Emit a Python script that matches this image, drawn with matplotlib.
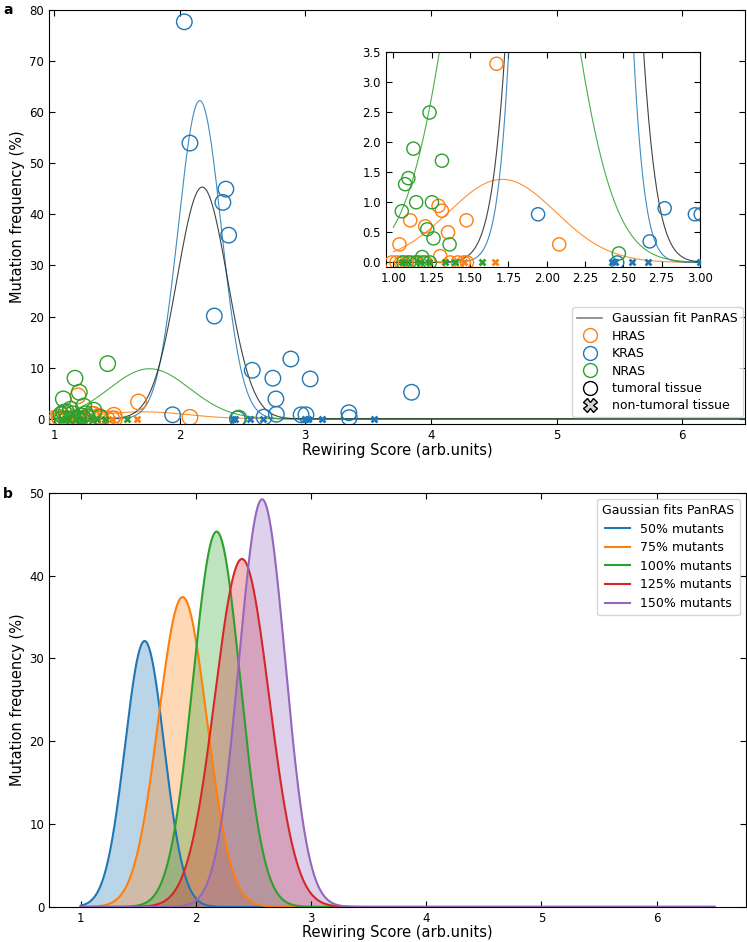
import numpy as np
import matplotlib
matplotlib.use("Agg")
import matplotlib.pyplot as plt
from matplotlib.lines import Line2D
from matplotlib.ticker import FormatStrFormatter

# ---------------- data: panel a ----------------
# tumoral tissue (circles)
hras_x = [1.673, 1.295, 1.317, 1.11, 1.477, 1.208, 1.357, 1.04, 2.082, 1.306,
          0.99, 1.02, 1.05, 1.09, 1.13, 1.17, 1.21, 1.37, 1.42, 1.46, 1.48, 1.19]
hras_y = [3.3, 0.94, 0.86, 0.70, 0.70, 0.60, 0.50, 0.30, 0.30, 0.105,
          0.0, 0.0, 0.0, 0.0, 0.0, 0.0, 0.0, 0.0, 0.0, 0.0, 0.0, 4.5]
kras_x = [2.037, 2.082, 2.368, 2.344, 2.39, 2.276, 2.578, 2.885, 2.742, 3.039,
          2.766, 2.77, 1.944, 2.967, 3.005, 3.347, 3.35, 2.672, 3.846, 2.46]
kras_y = [77.6, 53.9, 44.9, 42.3, 35.9, 20.1, 9.5, 11.7, 7.95, 7.8,
          3.9, 0.9, 0.8, 0.8, 0.8, 1.2, 0.25, 0.35, 5.2, 0.0]
nras_x = [1.236, 1.131, 1.317, 1.098, 1.077, 1.149, 1.252, 1.055, 1.221, 1.262,
          1.367, 1.188, 2.471, 1.065, 1.104, 1.152, 1.195, 1.238,
          1.427, 1.167, 1.201, 1.074]
nras_y = [2.49, 1.89, 1.69, 1.40, 1.30, 1.00, 1.00, 0.85, 0.55, 0.40,
          0.30, 0.09, 0.15, 0.0, 0.0, 0.0, 0.0, 0.0,
          10.8, 7.95, 5.2, 3.9]
# non-tumoral tissue (crosses, frequency 0)
hras_nt_x = [1.464, 1.66]
kras_nt_x = [2.426, 2.443, 2.56, 2.662, 3.0, 3.02, 3.135, 3.545]
nras_nt_x = [1.055, 1.098, 1.175, 1.23, 1.339, 1.405, 1.58]

# Gaussian fits (amplitude, mean, sigma)
fit_names = ["HRAS", "KRAS", "NRAS", "PanRAS"]
fit_amp = [1.38, 62.2, 9.8, 45.3]
fit_mu = [1.71, 2.16, 1.76, 2.18]
fit_sigma = [0.35, 0.17, 0.32, 0.20]

# ---------------- data: panel b ----------------
b_labels = ["50% mutants", "75% mutants", "100% mutants", "125% mutants", "150% mutants"]
b_amp = [32.1, 37.4, 45.3, 42.0, 49.2]
b_mu = [1.555, 1.885, 2.18, 2.40, 2.575]
b_sigma = [0.17, 0.21, 0.205, 0.235, 0.20]

C_H, C_K, C_N = "#ff7f0e", "#1f77b4", "#2ca02c"
fit_colors = [C_H, C_K, C_N, "#222222"]
b_colors = ["#1f77b4", "#ff7f0e", "#2ca02c", "#d62728", "#9467bd"]

def gauss(x, a, m, s):
    return a * np.exp(-(x - m) ** 2 / (2 * s ** 2))

plt.rcParams['font.family'] = ['DejaVu Sans']
fig = plt.figure(figsize=(7.47, 9.42), dpi=100)

TICK_FS = 8.5
LAB_FS = 10.5

def style(ax, fs=TICK_FS):
    ax.tick_params(direction='in', top=True, right=True, labelsize=fs, length=4, width=0.8)

xs = np.linspace(1.0, 6.5, 1200)

def draw_points(ax, s_circ, s_x):
    for gx, gy, c in [(hras_x, hras_y, C_H), (kras_x, kras_y, C_K), (nras_x, nras_y, C_N)]:
        ax.scatter(gx, gy, s=s_circ, facecolors='none', edgecolors=c, linewidths=1.0, zorder=3)
    for gx, c in [(hras_nt_x, C_H), (kras_nt_x, C_K), (nras_nt_x, C_N)]:
        ax.scatter(gx, np.zeros(len(gx)), s=s_x, marker='X', color=c, linewidths=0, zorder=4)
    for a, m, s, c in zip(fit_amp, fit_mu, fit_sigma, fit_colors):
        ax.plot(xs, gauss(xs, a, m, s), color=c, lw=0.8, alpha=0.85, zorder=2)

# ---- panel a ----
ax1 = fig.add_axes([0.0656, 0.5499, 0.9317, 0.44])
draw_points(ax1, 125, 32)
ax1.set_xlim(0.96, 6.5)
ax1.set_ylim(-1, 80)
ax1.set_xticks([1, 2, 3, 4, 5, 6])
ax1.set_yticks(np.arange(0, 81, 10))
style(ax1)
ax1.set_xlabel("Rewiring Score (arb.units)", fontsize=LAB_FS, labelpad=1)
ax1.set_ylabel("Mutation frequency (%)", fontsize=LAB_FS, labelpad=3)

handles = [
    Line2D([0], [0], color='gray', lw=1.2),
    Line2D([], [], marker='o', ls='', mfc='none', mec=C_H, ms=10),
    Line2D([], [], marker='o', ls='', mfc='none', mec=C_K, ms=10),
    Line2D([], [], marker='o', ls='', mfc='none', mec=C_N, ms=10),
    Line2D([], [], marker='o', ls='', mfc='none', mec='black', ms=10),
    Line2D([], [], marker='X', ls='', mfc='lightgray', mec='black', ms=10),
]
labels = ["Gaussian fit PanRAS", "HRAS", "KRAS", "NRAS", "tumoral tissue", "non-tumoral tissue"]
ax1.legend(handles, labels, loc='lower right', bbox_to_anchor=(0.997, 0.016),
           borderaxespad=0, fontsize=9, labelspacing=0.35, handletextpad=0.8)

# inset
axi = fig.add_axes([0.5163, 0.7169, 0.4207, 0.2282])
draw_points(axi, 90, 32)
axi.set_xlim(0.95, 3.0)
axi.set_ylim(-0.07, 3.5)
axi.set_xticks(np.arange(1.0, 3.01, 0.25))
axi.set_yticks(np.arange(0, 3.51, 0.5))
axi.xaxis.set_major_formatter(FormatStrFormatter('%.2f'))
axi.yaxis.set_major_formatter(FormatStrFormatter('%.1f'))
style(axi)

# ---- panel b ----
ax2 = fig.add_axes([0.0656, 0.0372, 0.933, 0.4398])
for a, m, s, c, lab in zip(b_amp, b_mu, b_sigma, b_colors, b_labels):
    y = gauss(xs, a, m, s)
    ax2.plot(xs, y, color=c, lw=1.5, label=lab)
    ax2.fill_between(xs, y, color=c, alpha=0.3, lw=0)
ax2.set_ylim(0, 50)
ax2.set_xticks([1, 2, 3, 4, 5, 6])
ax2.set_yticks(np.arange(0, 51, 10))
style(ax2)
ax2.set_xlabel("Rewiring Score (arb.units)", fontsize=LAB_FS, labelpad=0)
ax2.set_ylabel("Mutation frequency (%)", fontsize=LAB_FS, labelpad=3)
ax2.legend(title="Gaussian fits PanRAS", loc='upper right', fontsize=9, title_fontsize=9,
           labelspacing=0.45)

fig.text(0.004, 0.997, "a", fontsize=10, fontweight='bold', va='top')
fig.text(0.004, 0.483, "b", fontsize=10, fontweight='bold', va='top')

fig.savefig("out.png", dpi=100)
